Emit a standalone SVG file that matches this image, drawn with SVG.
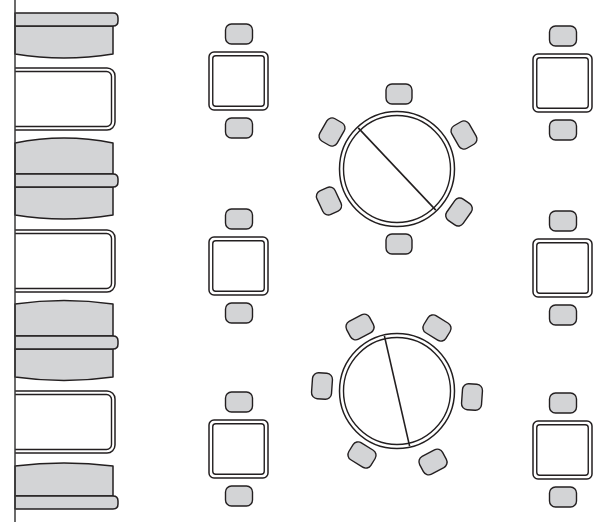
<svg xmlns="http://www.w3.org/2000/svg" width="606" height="523" viewBox="0 0 606 523">
<style>
.seat{fill:#d3d4d6;stroke:#231f20;stroke-width:1.5;stroke-linejoin:round}
.chair{fill:#d3d4d6;stroke:#231f20;stroke-width:1.4}
.tbl{fill:#fff;stroke:#231f20;stroke-width:1.5}
.tin{fill:none;stroke:#231f20;stroke-width:1.4}
.line{fill:none;stroke:#231f20;stroke-width:1.6}
.wall{fill:none;stroke:#3a3a3a;stroke-width:1.5}
</style>
<defs>
<rect id="ch" x="-13" y="-10" width="26" height="20" rx="6" ry="6" class="chair"/>
<g id="sq">
<rect x="16.5" y="-28" width="27" height="20" rx="6" class="chair"/>
<rect x="0" y="0" width="59" height="58" rx="5" class="tbl"/>
<rect x="3.75" y="3.75" width="51.5" height="50.5" rx="3" class="tin"/>
<rect x="16.5" y="66" width="27" height="20" rx="6" class="chair"/>
</g>
<g id="wt">
<path d="M15,0 H107 A8,8 0 0 1 115,8 V54 A8,8 0 0 1 107,62 H15" class="tbl"/>
<path d="M15,3.5 H106.5 A5,5 0 0 1 111.5,8.5 V53.5 A5,5 0 0 1 106.5,58.5 H15" class="tin"/>
</g>
<path id="bar" d="M15,0 H113 Q118,0 118,5 V8 Q118,13 113,13 H15 Z" class="seat"/>
</defs>

<g id="booths">
<path class="seat" d="M15,26 H113 V54 Q64,62 15,54 Z"/>
<use href="#bar" y="13"/>
<path class="seat" d="M15,174 H113 V143 Q64,133 15,143 Z"/>
<path class="seat" d="M15,187 H113 V215 Q64,223 15,215 Z"/>
<use href="#bar" y="174"/>
<path class="seat" d="M15,336 H113 V304 Q64,297 15,304 Z"/>
<path class="seat" d="M15,349 H113 V377 Q64,384 15,377 Z"/>
<use href="#bar" y="336"/>
<path class="seat" d="M15,496 H113 V466 Q64,460 15,466 Z"/>
<use href="#bar" y="496"/>
</g>

<g id="wall-table-1"><use href="#wt" y="68"/></g>
<g id="wall-table-2"><use href="#wt" y="230"/></g>
<g id="wall-table-3"><use href="#wt" y="391"/></g>

<line id="wall" class="wall" x1="15" y1="0" x2="15" y2="522"/>

<g id="table-L1"><use href="#sq" x="209" y="52"/></g>
<g id="table-L2"><use href="#sq" x="209" y="237"/></g>
<g id="table-L3"><use href="#sq" x="209" y="420"/></g>
<g id="table-R1"><use href="#sq" x="533" y="54"/></g>
<g id="table-R2"><use href="#sq" x="533" y="239"/></g>
<g id="table-R3"><use href="#sq" x="533" y="421"/></g>

<g id="round-1">
<use href="#ch" transform="translate(399,94)"/>
<use href="#ch" transform="translate(399,244)"/>
<use href="#ch" transform="translate(332,132) rotate(-60)"/>
<use href="#ch" transform="translate(464,135) rotate(60)"/>
<use href="#ch" transform="translate(329,201) rotate(65)"/>
<use href="#ch" transform="translate(459,212) rotate(-55)"/>
<circle cx="397" cy="169" r="57.5" class="tbl"/>
<circle cx="397" cy="169" r="53.5" class="tin"/>
<line class="line" x1="358.2" y1="127.9" x2="435.8" y2="210.1"/>
</g>

<g id="round-2">
<use href="#ch" transform="translate(360,327) rotate(-28)"/>
<use href="#ch" transform="translate(437,328) rotate(32)"/>
<use href="#ch" transform="translate(322,386) rotate(94)"/>
<use href="#ch" transform="translate(472,397) rotate(94)"/>
<use href="#ch" transform="translate(362,455) rotate(32)"/>
<use href="#ch" transform="translate(433,462) rotate(-28)"/>
<circle cx="397" cy="391" r="57.5" class="tbl"/>
<circle cx="397" cy="391" r="53.5" class="tin"/>
<line class="line" x1="384.4" y1="335.9" x2="409.6" y2="446.1"/>
</g>
</svg>
